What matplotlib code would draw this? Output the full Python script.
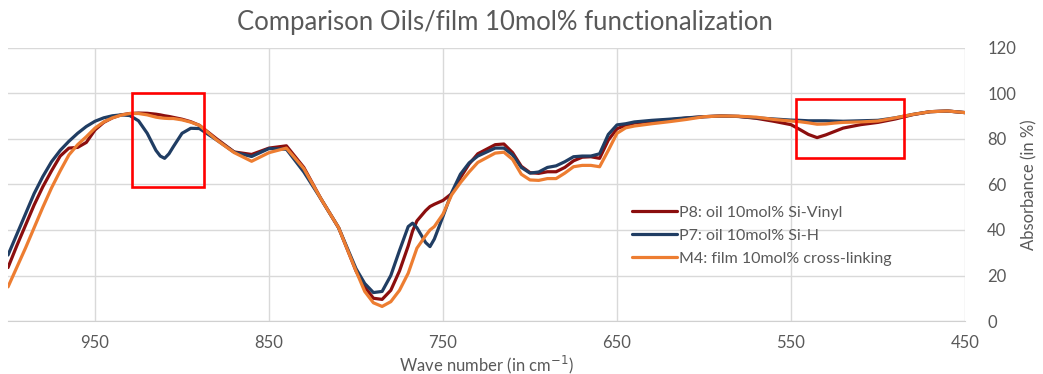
import matplotlib
matplotlib.use("Agg")
import matplotlib.pyplot as plt
from matplotlib.patches import Rectangle
import numpy as np

plt.rcParams['font.family'] = ['Lato', 'DejaVu Sans']

# wave numbers (cm-1)
wave = [1000, 995, 990, 985, 980, 975, 970, 965, 960, 955, 950, 945, 940, 935, 930,
        925, 920, 915, 912.5, 910, 907.5, 905, 900, 895, 890, 880, 870, 860, 850, 840, 830, 820,
        810, 800, 795, 790, 785, 780, 775, 770, 767.5, 765, 760, 757.5, 755, 750, 745,
        740, 735, 730, 720, 715, 710, 705, 700, 695, 690, 685, 680, 675, 670, 665,
        660, 655, 650, 645, 640, 630, 620, 610, 600, 590, 580, 570, 560, 550, 545,
        540, 535, 530, 525, 520, 510, 500, 490, 480, 470, 460, 450]

p8_vinyl = [23.5, 33, 42, 51, 59, 66, 72.5, 76, 76.3, 78.5, 84, 87.3, 89.3, 90.6, 91.2,
            91.4, 91.3, 90.9, 90.6, 90.2, 89.9, 89.5, 88.7, 87.6, 86, 80, 74.3, 73.2, 76, 77, 67.5, 53.5,
            41, 22, 15, 10, 9.5, 13.5, 22, 33, 39.5, 44, 48.5, 50.3, 51.3, 53, 56,
            63, 69, 73.5, 77.5, 77.8, 74, 68, 65.2, 64.9, 65.6, 65.6, 67.5, 70.4, 72, 72.2,
            71.5, 79.5, 84.5, 86, 87, 87.8, 88.4, 89.2, 89.8, 90.1, 89.9, 89.1, 87.8, 86.3, 84.2,
            82, 80.6, 81.8, 83.3, 84.8, 86.3, 87.3, 88.8, 90.7, 92, 92.3, 91.6]

p7_sih = [29, 38, 47, 56, 63.5, 70, 75, 79, 82.5, 85.5, 87.8, 89.3, 90.2, 90.6, 90.3,
          88, 82.5, 75, 72.5, 71.5, 73.5, 76.6, 82.5, 84.7, 84.6, 79.5, 74.2, 72.3, 75.8, 75.5, 65.5, 53.5,
          41, 23, 16.5, 12.5, 13, 20, 31, 41.5, 43, 41, 34.5, 32.7, 36, 46, 56.5,
          64.5, 69.5, 72.5, 76, 76, 73, 67.5, 65, 65.5, 67.5, 68.2, 70, 72.2, 72.5, 72.5,
          73.5, 82, 86.2, 86.7, 87.5, 88.2, 88.7, 89.3, 89.8, 90.1, 89.9, 89.3, 88.8, 88.3, 88.2,
          88, 88, 88, 87.9, 87.8, 88, 88.2, 89.3, 90.8, 92, 92.3, 91.6]

m4_film = [15, 23.5, 32, 41, 50, 58.5, 66, 73, 77.5, 81, 84.8, 87.5, 89.3, 90.5, 91.2,
           91.2, 90.6, 89.6, 89.3, 89.1, 89.0, 89, 88.4, 87.4, 86, 79.5, 74, 70.2, 74, 76, 67, 53.5,
           41, 22, 13, 8, 6.4, 8.5, 13.5, 21, 26.5, 32, 37.5, 40, 41.5, 47, 55.5,
           60.8, 65.5, 69.7, 73.8, 74.2, 71, 64.5, 62, 61.8, 62.6, 62.6, 65, 67.8, 68.4, 68.4,
           67.8, 75, 82.5, 84.9, 85.7, 86.7, 87.6, 88.6, 89.8, 90.1, 90, 89.6, 88.6, 87.9, 87.6,
           87.1, 86.5, 86.6, 87, 87.3, 87.5, 87.9, 89.3, 90.8, 92, 92.3, 91.6]

labels = ["P8: oil 10mol% Si-Vinyl", "P7: oil 10mol% Si-H", "M4: film 10mol% cross-linking"]
colors = ["#8B0E0E", "#203D63", "#ED7D31"]

# highlighted regions: (wave from, wave to, y low, y high)
boxes = [(928.7, 887.4, 58.9, 100.2), (547.1, 485.1, 71.6, 97.6)]

grey = "#595959"

fig = plt.figure(figsize=(10.43, 3.74), dpi=100)
ax = fig.add_axes([0.0077, 0.1417, 0.9175, 0.73])

for vals, lab, col in zip([p8_vinyl, p7_sih, m4_film], labels, colors):
    ax.plot(wave, vals, color=col, lw=2.3, label=lab,
            solid_capstyle='round', solid_joinstyle='round')

for x0, x1, y0, y1 in boxes:
    ax.add_patch(Rectangle((x0, y0), x1 - x0, y1 - y0, fill=False,
                           edgecolor="#FF0000", lw=1.9, zorder=5))

ax.set_xlim(1000, 450)
ax.set_ylim(0, 120)
ax.set_xticks(np.arange(950, 449, -100))
ax.set_yticks(np.arange(0, 121, 20))
ax.yaxis.tick_right()
ax.yaxis.set_label_position("right")
ax.grid(True, color="#D9D9D9", lw=1)
ax.set_axisbelow(True)
for s in ['top', 'left', 'right']:
    ax.spines[s].set_visible(False)
ax.spines['bottom'].set_color("#D0D0D0")
ax.tick_params(length=0, labelsize=12, labelcolor=grey)
ax.tick_params(axis='x', pad=10)
ax.tick_params(axis='y', pad=16)
for t in ax.get_yticklabels():
    t.set_horizontalalignment('left')

ax.set_xlabel("Wave number (in cm$^{-1}$)", fontsize=12, color=grey, labelpad=2)
ax.set_ylabel("Absorbance (in %)", fontsize=12, color=grey, labelpad=4)

fig.text(0.484, 0.94, "Comparison Oils/film 10mol% functionalization",
         ha='center', va='center', fontsize=18.5, color=grey)

leg = ax.legend(loc='upper left', bbox_to_anchor=(0.6, 0.467), bbox_transform=fig.transFigure,
                frameon=False, fontsize=11.5, handlelength=2.8, handletextpad=0.1,
                labelspacing=0.54, borderaxespad=0)
for t in leg.get_texts():
    t.set_color(grey)

fig.savefig("out.png", dpi=100)
